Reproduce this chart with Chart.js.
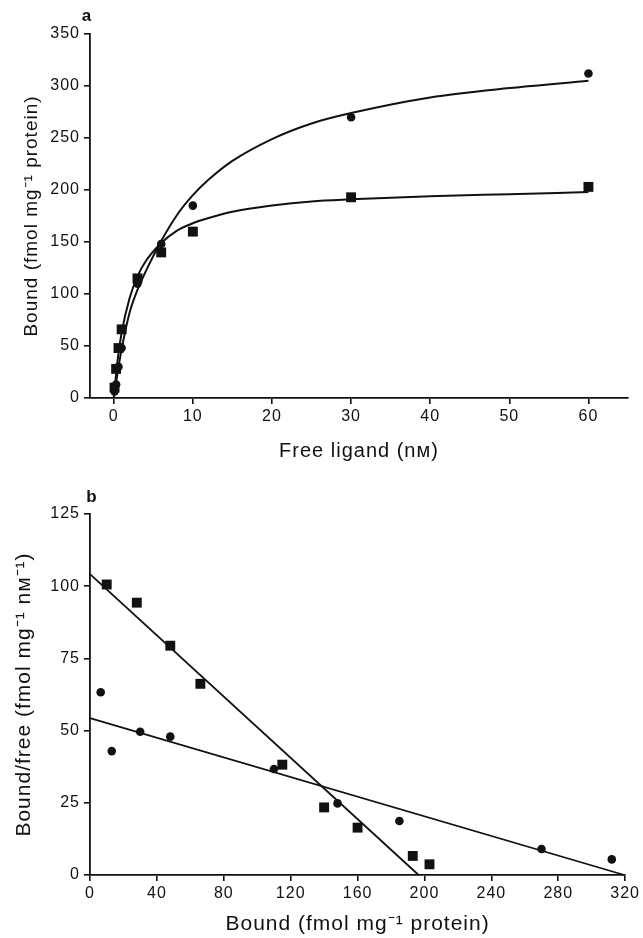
<!DOCTYPE html>
<html>
<head>
<meta charset="utf-8">
<script src="https://cdn.jsdelivr.net/npm/chart.js@4.4.1/dist/chart.umd.min.js"></script>
<style>
  body { margin: 0; background: #fff; }
  .panel { position: absolute; left: 0; }
</style>
</head>
<body>
<div class="panel" style="top:0"><canvas id="chartA" width="643" height="470"></canvas></div>
<div class="panel" style="top:470px"><canvas id="chartB" width="643" height="468"></canvas></div>
<script>
// Free ligand (nM) used for each point
const freeLigand = [0.1, 0.3, 0.6, 1, 3, 6, 10, 30, 60];

// Bound (fmol mg-1 protein)
const boundCircle = [6.4, 13, 30, 48, 110, 148, 185, 270, 312];
const boundSquare = [10, 28, 48, 66, 115, 140, 160, 193, 203];

// Bound/free (fmol mg-1 nM-1)
const ratioCircle = [63.3, 42.9, 49.6, 47.9, 36.7, 24.8, 18.7, 9.0, 5.4];
const ratioSquare = [100.6, 94.3, 79.4, 66.2, 38.2, 23.4, 16.4, 6.6, 3.7];

// fitted curves in panel a
const curveX = [0, 0.5, 1, 2, 3, 4, 6, 8, 10, 12, 15, 20, 25, 30, 40, 50, 60];
const curveCircle = [0, 25, 47, 82, 104, 121, 151, 176, 195, 210, 228, 249, 264, 274, 289, 298, 305];
const curveSquare = [0, 37, 63, 96, 117, 131, 149, 161, 168, 173, 179, 185, 189, 191, 194, 196, 198];

// Scatchard lines in panel b
const lineCircleX = [0, 319.5];
const lineCircleY = [54.3, 0];
const lineSquareX = [0, 196.5];
const lineSquareY = [104.2, 0];

// tick labels
const ticksAX = [0, 10, 20, 30, 40, 50, 60];
const ticksAY = [0, 50, 100, 150, 200, 250, 300, 350];
const ticksBX = [0, 40, 80, 120, 160, 200, 240, 280, 320];
const ticksBY = [0, 25, 50, 75, 100, 125];

const INK = '#111';
const FONT = '"Liberation Sans", Arial, Helvetica, sans-serif';
Chart.defaults.font.family = FONT;
Chart.defaults.color = INK;

const pts = (xs, ys) => xs.map((x, i) => ({ x: x, y: ys[i] }));

// wider letter spacing like the printed figure
const spacing = {
    id: 'spacing',
    beforeLayout(chart) { chart.ctx.letterSpacing = '1px'; },
    beforeDraw(chart) { chart.ctx.letterSpacing = '1px'; }
};

// bold panel letter (a / b)
const panelLabel = {
    id: 'panelLabel',
    afterDraw(chart, args, opts) {
        const ctx = chart.ctx;
        ctx.save();
        ctx.font = 'bold 17px ' + FONT;
        ctx.fillStyle = INK;
        ctx.textAlign = 'center';
        ctx.textBaseline = 'middle';
        ctx.fillText(opts.text, opts.x, opts.y);
        ctx.restore();
    }
};

function axis(min, max, tickList, title, opts) {
    return {
        type: 'linear',
        min: min,
        max: max,
        afterBuildTicks: s => { s.ticks = tickList.map(v => ({ value: v })); },
        afterFit: s => { if (opts.width) s.width = opts.width; if (opts.height) s.height = opts.height; },
        border: { display: true, color: INK, width: 1.8 },
        grid: { drawOnChartArea: false, drawTicks: true, tickLength: 6, color: INK, lineWidth: 1.6 },
        ticks: { color: INK, font: { size: 16 }, padding: opts.tickPad, autoSkip: false, maxRotation: 0 },
        title: { display: true, text: title, color: INK, font: { size: opts.titleSize }, padding: opts.titlePad }
    };
}

function markers(data, style, radius) {
    return {
        data: data,
        pointStyle: style,
        pointRadius: radius,
        backgroundColor: INK,
        borderColor: INK,
        borderWidth: 0,
        showLine: false,
        clip: false
    };
}

function curve(data, width, smooth) {
    return {
        data: data,
        showLine: true,
        pointRadius: 0,
        borderColor: INK,
        borderWidth: width,
        fill: false,
        cubicInterpolationMode: smooth ? 'monotone' : 'default',
        clip: false
    };
}

// === PANEL A: saturation ===
new Chart(document.getElementById('chartA'), {
    type: 'scatter',
    data: {
        datasets: [
            markers(pts(freeLigand, boundCircle), 'circle', 4.3),
            markers(pts(freeLigand, boundSquare), 'rect', 7),
            curve(pts(curveX, curveCircle), 2, true),
            curve(pts(curveX, curveSquare), 2, true)
        ]
    },
    options: {
        responsive: false,
        animation: false,
        events: [],
        devicePixelRatio: 1,
        layout: { padding: { top: 34, right: 15, left: 0, bottom: 0 } },
        plugins: {
            legend: { display: false },
            tooltip: { enabled: false },
            panelLabel: { text: 'a', x: 87, y: 16 }
        },
        scales: {
            x: axis(-3, 65, ticksAX, 'Free ligand (nᴍ)', { height: 72, tickPad: 3, titleSize: 20, titlePad: { top: 0, bottom: 7 } }),
            y: axis(0, 350, ticksAY, 'Bound (fmol mg⁻¹ protein)', { width: 90, tickPad: 4, titleSize: 19, titlePad: { top: 20, bottom: 0 } })
        }
    },
    plugins: [spacing, panelLabel]
});

// === PANEL B: Scatchard ===
new Chart(document.getElementById('chartB'), {
    type: 'scatter',
    data: {
        datasets: [
            markers(pts(boundCircle, ratioCircle), 'circle', 4.3),
            markers(pts(boundSquare, ratioSquare), 'rect', 7),
            curve(pts(lineCircleX, lineCircleY), 1.8, false),
            curve(pts(lineSquareX, lineSquareY), 1.8, false)
        ]
    },
    options: {
        responsive: false,
        animation: false,
        events: [],
        devicePixelRatio: 1,
        layout: { padding: { top: 44, right: 16, left: 0, bottom: 0 } },
        plugins: {
            legend: { display: false },
            tooltip: { enabled: false },
            panelLabel: { text: 'b', x: 92, y: 27 }
        },
        scales: {
            x: axis(0, 320, ticksBX, 'Bound (fmol mg⁻¹ protein)', { height: 63, tickPad: 3, titleSize: 21, titlePad: { top: 0, bottom: 1 } }),
            y: axis(0, 125, ticksBY, 'Bound/free (fmol mg⁻¹ nᴍ⁻¹)', { width: 90, tickPad: 4, titleSize: 21, titlePad: { top: 12, bottom: 0 } })
        }
    },
    plugins: [spacing, panelLabel]
});
</script>
</body>
</html>
